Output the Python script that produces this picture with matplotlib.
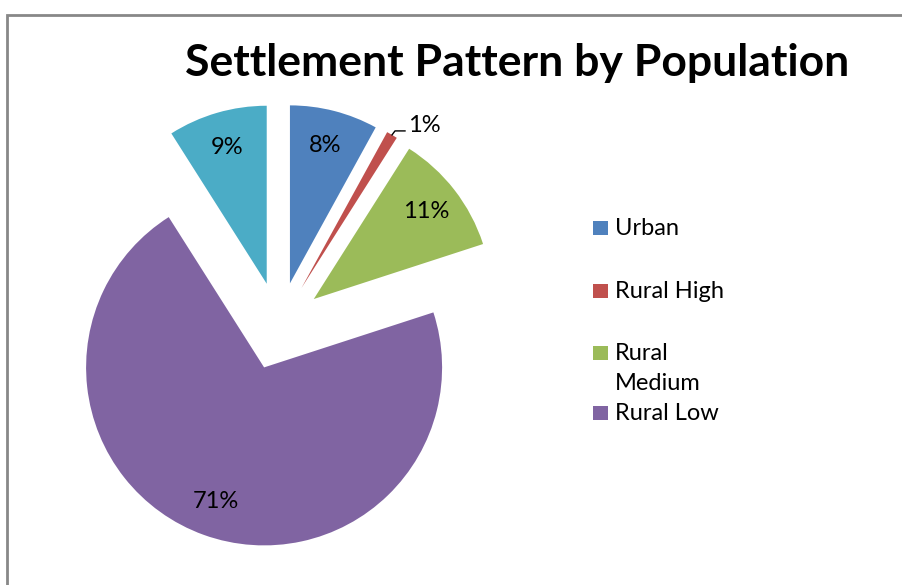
import math
import matplotlib
matplotlib.use('Agg')
import matplotlib.pyplot as plt
from matplotlib.patches import Rectangle

# settlement shares (%), clockwise from 12 o'clock
categories = ['Urban', 'Rural High', 'Rural Medium', 'Rural Low', 'Other']
shares = [8, 1, 11, 71, 9]
colors = ['#4F81BD', '#C0504D', '#9BBB59', '#8064A2', '#4BACC6']
legend_labels = ['Urban', 'Rural High', 'Rural\nMedium', 'Rural Low']

plt.rcParams['font.family'] = ['Lato', 'DejaVu Sans']

W, H = 903, 585
fig = plt.figure(figsize=(W / 100, H / 100), dpi=100)
ax = fig.add_axes([0, 0, 1, 1])

# chart frame (only top and left edges fall inside the canvas)
fig.add_artist(Rectangle((7 / W, -0.1), 1.2, 1.1 - 15 / H, transform=fig.transFigure,
                         fill=False, edgecolor='#888888', linewidth=2))

wedges, texts, autotexts = ax.pie(
    shares, colors=colors, startangle=90, counterclock=False,
    center=(279, H - 326), radius=178, explode=[44] * len(shares),
    autopct='%1.0f%%', pctdistance=0.8,
    textprops={'fontsize': 17, 'color': 'black'},
    wedgeprops={'linewidth': 0})

# pie() resets the limits, so fix pixel-like data coords afterwards
ax.set_xlim(0, W)
ax.set_ylim(0, H)
ax.set_aspect('equal')
ax.set_axis_off()

# small slice gets its label outside with a leader line
small = shares.index(1)
w = wedges[small]
thm = math.radians((w.theta1 + w.theta2) / 2)
tip = (w.center[0] + w.r * math.cos(thm), w.center[1] + w.r * math.sin(thm))
ax.plot([tip[0], tip[0] + 3, tip[0] + 13], [tip[1], tip[1] + 4, tip[1] + 4],
        color='black', linewidth=1)
autotexts[small].set_position((tip[0] + 16, tip[1] + 9))
autotexts[small].set_ha('left')
autotexts[small].set_va('center')

ax.text(517, H - 63, 'Settlement Pattern by Population', ha='center', va='center',
        fontsize=32, fontweight='bold')

# legend
legend_y = [228, 291, 353, 413]
for lab, col, y in zip(legend_labels, colors, legend_y):
    ax.add_patch(Rectangle((593, H - y - 7), 15, 14, facecolor=col, edgecolor='none'))
    ax.text(615, H - y + 10, lab, ha='left', va='top',
            fontsize=17, linespacing=1.5)

fig.savefig('out.png', dpi=100)
